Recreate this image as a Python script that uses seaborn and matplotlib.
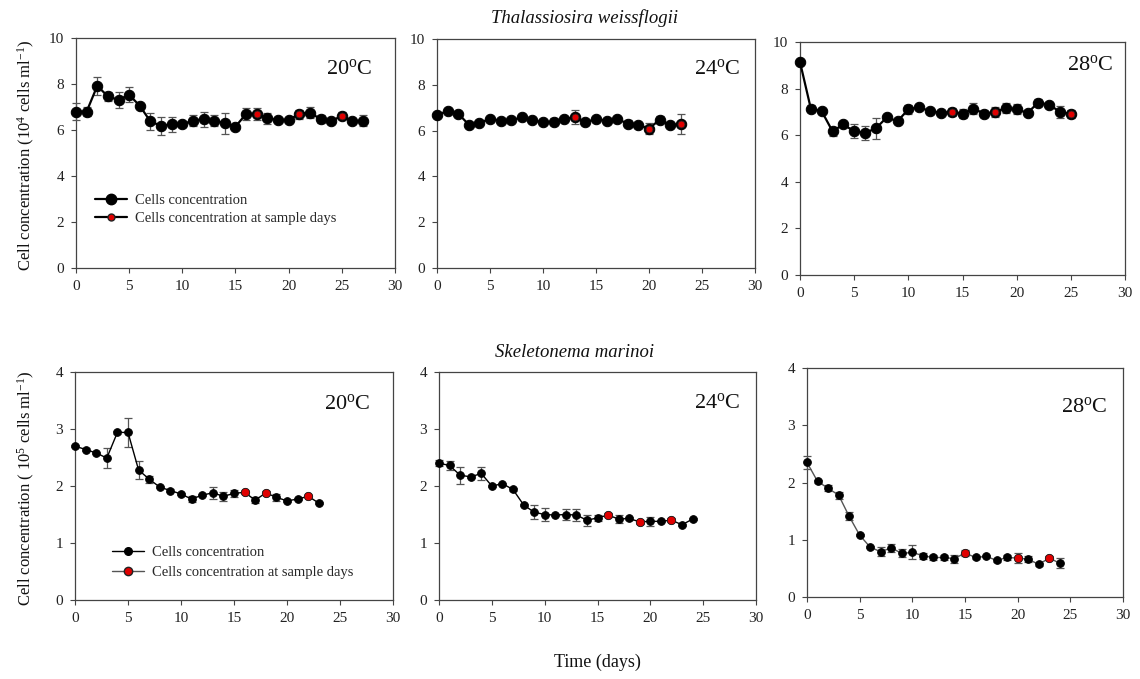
import numpy as np
import pandas as pd
import matplotlib
matplotlib.use("Agg")
import matplotlib.pyplot as plt
from matplotlib.lines import Line2D
import seaborn as sns

# ---------------- data ----------------
# Thalassiosira weissflogii (10^4 cells/ml)
tw20_days = list(range(0, 28))
tw20_vals = [6.80, 6.80, 7.92, 7.46, 7.31, 7.53, 7.05, 6.37, 6.18, 6.25, 6.25, 6.41, 6.47, 6.41,
             6.29, 6.15, 6.70, 6.70, 6.51, 6.44, 6.44, 6.69, 6.76, 6.47, 6.37, 6.63, 6.37, 6.41]
tw20_err = [0.36, 0.20, 0.40, 0.18, 0.35, 0.33, 0.10, 0.35, 0.38, 0.33, 0.10, 0.25, 0.33, 0.25,
            0.45, 0.10, 0.25, 0.25, 0.25, 0.08, 0.08, 0.20, 0.24, 0.18, 0.08, 0.17, 0.08, 0.24]
tw20_sample = [17, 21, 25]

tw24_days = list(range(0, 24))
tw24_vals = [6.70, 6.84, 6.74, 6.26, 6.33, 6.52, 6.43, 6.45, 6.58, 6.45, 6.36, 6.39, 6.51, 6.58,
             6.36, 6.51, 6.43, 6.51, 6.30, 6.26, 6.08, 6.48, 6.23, 6.29]
tw24_err = [0.05, 0.05, 0.05, 0.05, 0.05, 0.05, 0.05, 0.05, 0.05, 0.05, 0.05, 0.15, 0.05, 0.30,
            0.10, 0.05, 0.05, 0.05, 0.15, 0.05, 0.25, 0.15, 0.08, 0.44]
tw24_sample = [13, 20, 23]

tw28_days = list(range(0, 26))
tw28_vals = [9.14, 7.14, 7.03, 6.17, 6.46, 6.17, 6.10, 6.29, 6.76, 6.60, 7.11, 7.20, 7.03, 6.96,
             6.99, 6.93, 7.14, 6.93, 7.00, 7.17, 7.11, 6.96, 7.40, 7.31, 7.00, 6.91]
tw28_err = [0.10, 0.15, 0.05, 0.20, 0.05, 0.30, 0.30, 0.45, 0.05, 0.05, 0.20, 0.05, 0.05, 0.05,
            0.18, 0.18, 0.25, 0.15, 0.20, 0.20, 0.22, 0.12, 0.15, 0.13, 0.25, 0.18]
tw28_sample = [14, 18, 25]

# Skeletonema marinoi (10^5 cells/ml)
sm20_days = list(range(0, 24))
sm20_vals = [2.70, 2.64, 2.58, 2.49, 2.94, 2.94, 2.28, 2.12, 1.98, 1.92, 1.86, 1.77, 1.84, 1.88,
             1.82, 1.87, 1.89, 1.75, 1.88, 1.80, 1.74, 1.77, 1.82, 1.70]
sm20_err = [0.02, 0.02, 0.02, 0.17, 0.02, 0.26, 0.16, 0.06, 0.02, 0.02, 0.02, 0.05, 0.02, 0.10,
            0.08, 0.06, 0.03, 0.05, 0.03, 0.06, 0.02, 0.02, 0.02, 0.02]
sm20_sample = [16, 18, 22]

sm24_days = list(range(0, 25))
sm24_vals = [2.40, 2.36, 2.19, 2.16, 2.22, 2.00, 2.04, 1.94, 1.67, 1.54, 1.50, 1.49, 1.50, 1.49,
             1.40, 1.44, 1.49, 1.42, 1.43, 1.37, 1.38, 1.38, 1.40, 1.32, 1.42]
sm24_err = [0.05, 0.08, 0.15, 0.02, 0.12, 0.02, 0.02, 0.02, 0.02, 0.12, 0.11, 0.02, 0.10, 0.10,
            0.10, 0.06, 0.03, 0.07, 0.03, 0.04, 0.08, 0.02, 0.03, 0.02, 0.02]
sm24_sample = [16, 19, 22]

sm28_days = list(range(0, 25))
sm28_vals = [2.35, 2.02, 1.90, 1.78, 1.41, 1.08, 0.87, 0.79, 0.86, 0.76, 0.78, 0.72, 0.69, 0.69,
             0.67, 0.77, 0.69, 0.71, 0.64, 0.69, 0.68, 0.66, 0.57, 0.68, 0.59]
sm28_err = [0.12, 0.02, 0.05, 0.06, 0.07, 0.02, 0.02, 0.08, 0.07, 0.07, 0.12, 0.05, 0.04, 0.04,
            0.07, 0.05, 0.02, 0.02, 0.02, 0.05, 0.08, 0.05, 0.02, 0.03, 0.09]
sm28_sample = [15, 20, 23]

temp_labels = ["20$^\\mathregular{o}$C", "24$^\\mathregular{o}$C", "28$^\\mathregular{o}$C"]
legend_labels = ["Cells concentration", "Cells concentration at sample days"]
species_titles = ["Thalassiosira weissflogii", "Skeletonema marinoi"]
ylabels = ["Cell concentration (10$^\\mathregular{4}$ cells ml$^\\mathregular{-1}$)",
           "Cell concentration ( 10$^\\mathregular{5}$ cells ml$^\\mathregular{-1}$)"]
xlabel = "Time (days)"

# ---------------- style ----------------
sns.set_style("ticks")
plt.rcParams["font.family"] = ["Liberation Serif", "DejaVu Serif"]
plt.rcParams["mathtext.fontset"] = "custom"
plt.rcParams["mathtext.rm"] = "Liberation Serif"
plt.rcParams["mathtext.it"] = "Liberation Serif:italic"

W, H = 1140, 679
fig = plt.figure(figsize=(W / 100, H / 100), dpi=100)


def add_ax(x0, y0, x1, y1):
    return fig.add_axes([x0 / W, 1 - y1 / H, (x1 - x0) / W, (y1 - y0) / H])


panels = [
    ((76, 38, 395, 268), tw20_days, tw20_vals, tw20_err, tw20_sample, 10, [0, 2, 4, 6, 8, 10], temp_labels[0], (0.93, 0.865), "top", "k"),
    ((437, 39, 755, 268), tw24_days, tw24_vals, tw24_err, tw24_sample, 10, [0, 2, 4, 6, 8, 10], temp_labels[1], (0.953, 0.87), "top", "k"),
    ((800, 42, 1125, 275), tw28_days, tw28_vals, tw28_err, tw28_sample, 10, [0, 2, 4, 6, 8, 10], temp_labels[2], (0.963, 0.90), "top", "k"),
    ((75, 372, 393, 600), sm20_days, sm20_vals, sm20_err, sm20_sample, 4, [0, 1, 2, 3, 4], temp_labels[0], (0.93, 0.86), "bottom", "k"),
    ((439, 372, 756, 600), sm24_days, sm24_vals, sm24_err, sm24_sample, 4, [0, 1, 2, 3, 4], temp_labels[1], (0.95, 0.864), "bottom", "k"),
    ((807, 368, 1123, 597), sm28_days, sm28_vals, sm28_err, sm28_sample, 4, [0, 1, 2, 3, 4], temp_labels[2], (0.95, 0.83), "bottom", "#555555"),
]

axes = []
for i, (box, days, vals, err, sample, ymax, yticks, tlab, tpos, row, lcol) in enumerate(panels):
    ax = add_ax(*box)
    axes.append(ax)
    df = pd.DataFrame({"day": days, "val": vals, "err": err})
    df["sample"] = df["day"].isin(sample)

    if row == "top":
        ms_black, ms_red, lw = 7.5, 5.0, 1.6
    else:
        ms_black, ms_red, lw = 5.5, 6.0, 1.0

    ax.errorbar(df["day"], df["val"], yerr=df["err"], fmt="none", ecolor="#555555",
                elinewidth=0.9, capsize=2.6, capthick=0.9, zorder=2)
    sns.lineplot(data=df, x="day", y="val", ax=ax, color=lcol, linewidth=lw,
                 marker="o", markersize=ms_black, markerfacecolor="black",
                 markeredgecolor="black", zorder=3, legend=False)
    red = df[df["sample"]]
    sns.scatterplot(data=red, x="day", y="val", ax=ax, color="#e00000",
                    s=ms_red ** 2, edgecolor="#222222", linewidth=0.6, zorder=4, legend=False)
    for art in list(ax.lines) + list(ax.collections):
        art.set_clip_on(False)

    ax.set_xlim(0, 30)
    ax.set_ylim(0, ymax)
    ax.set_xticks([0, 5, 10, 15, 20, 25, 30])
    ax.set_yticks(yticks)
    ax.set_xlabel("")
    ax.set_ylabel("")
    for sp in ax.spines.values():
        sp.set_visible(True)
        sp.set_color("#444444")
        sp.set_linewidth(0.9)
        sp.set_zorder(1)
    ax.tick_params(axis="both", direction="out", length=3.5, width=0.8, color="#444444",
                   labelsize=11, labelcolor="#222222", pad=5, top=False, right=False)
    ax.text(tpos[0], tpos[1], tlab, transform=ax.transAxes, ha="right", va="center",
            fontsize=16, color="#111111")

# legends
def legend_handles(top):
    if top:
        return [Line2D([0], [0], color="black", lw=1.6, marker="o", markersize=7.5, markerfacecolor="black"),
                Line2D([0], [0], color="black", lw=1.6, marker="o", markersize=5.0,
                       markerfacecolor="#e00000", markeredgecolor="#222222")]
    return [Line2D([0], [0], color="black", lw=1.0, marker="o", markersize=5.5, markerfacecolor="black"),
            Line2D([0], [0], color="#555555", lw=1.0, marker="o", markersize=6.0,
                   markerfacecolor="#e00000", markeredgecolor="#222222")]

axes[0].legend(legend_handles(True), legend_labels, loc="center left", bbox_to_anchor=(0.06, 0.255),
               frameon=False, fontsize=10.5, handlelength=2.2, handletextpad=0.5,
               labelspacing=0.3, borderpad=0, borderaxespad=0)
axes[3].legend(legend_handles(False), legend_labels, loc="center left", bbox_to_anchor=(0.115, 0.165),
               frameon=False, fontsize=10.5, handlelength=2.2, handletextpad=0.6,
               labelspacing=0.45, borderpad=0, borderaxespad=0)

# titles and labels
fig.text(585 / W, 1 - 18 / H, species_titles[0], ha="center", va="center", fontsize=13.5,
         style="italic", color="#111111")
fig.text(575 / W, 1 - 352 / H, species_titles[1], ha="center", va="center", fontsize=13.5,
         style="italic", color="#111111")
fig.text(26 / W, 1 - 155 / H, ylabels[0], rotation=90, ha="center", va="center", fontsize=12,
         color="#111111")
fig.text(26 / W, 1 - 488 / H, ylabels[1], rotation=90, ha="center", va="center", fontsize=12,
         color="#111111")
fig.text(597 / W, 1 - 662 / H, xlabel, ha="center", va="center", fontsize=13, color="#111111")

fig.savefig("out.png", dpi=100)
